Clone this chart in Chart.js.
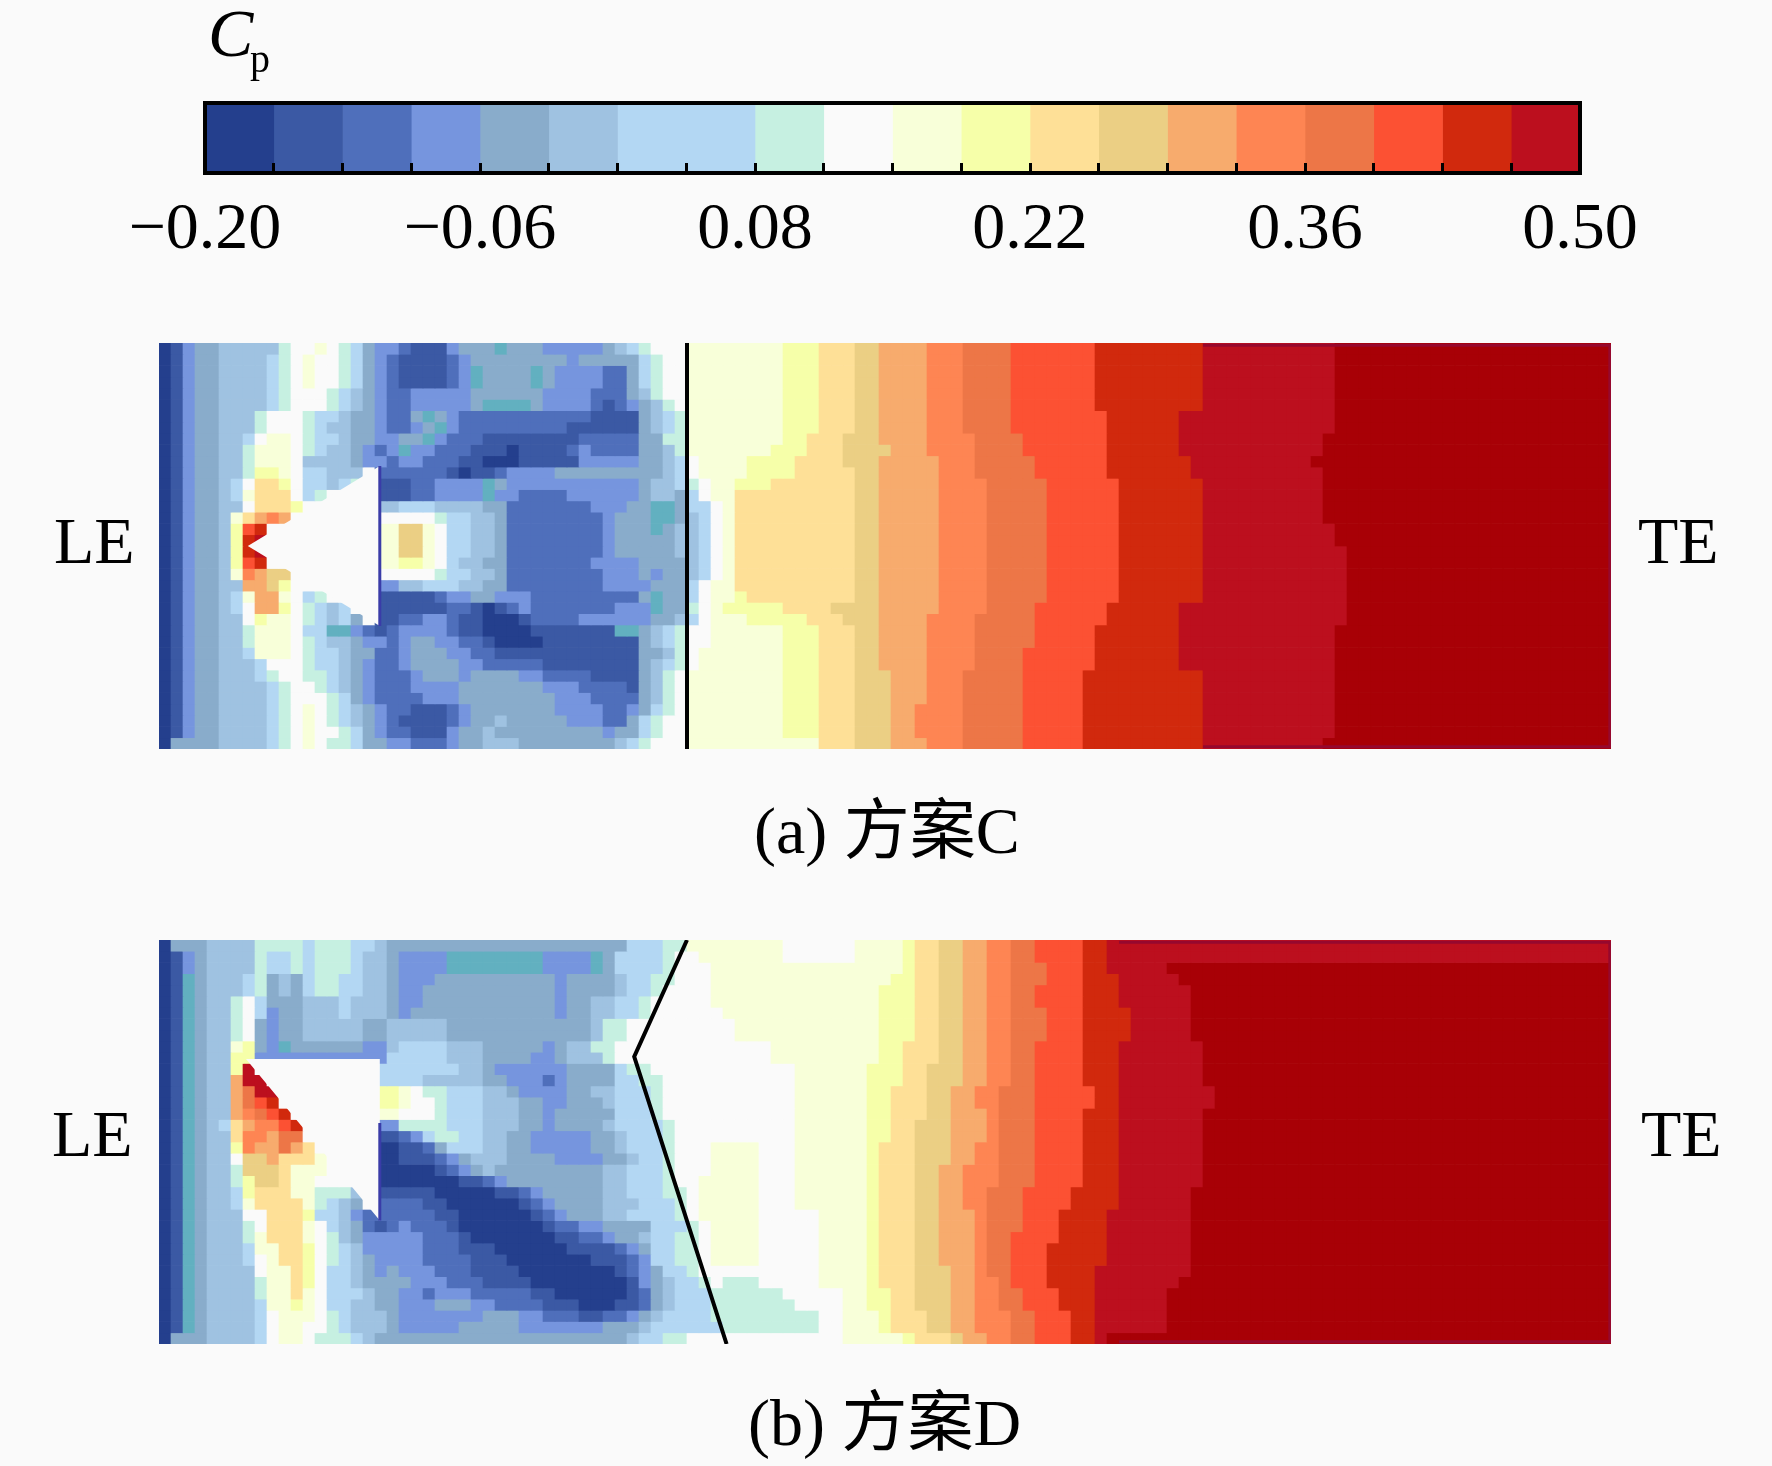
<!DOCTYPE html>
<html>
<head>
<meta charset="utf-8">
<script src="https://cdn.jsdelivr.net/npm/chart.js@4"></script>
<style>
  html, body { margin: 0; background: #fafafa; }
  #page { position: relative; width: 1772px; height: 1466px; overflow: hidden; }
  canvas { position: absolute; }
  .label { position: absolute; font: 66px/66px "Liberation Serif", "Noto Sans CJK SC", serif; color: #000; white-space: nowrap; }
</style>
</head>
<body>
<div id="page">
  <canvas id="barCanvas" style="left:0;top:90px" width="1772" height="180"></canvas>
  <canvas id="fieldA" style="left:159px;top:343px" width="1452" height="406"></canvas>
  <canvas id="fieldB" style="left:159px;top:940px" width="1452" height="404"></canvas>
  <div class="label" style="left:208px;top:0;font-style:italic;font-size:68px">C</div>
  <div class="label" style="left:250px;top:26px;font-size:40px">p</div>
  <div class="label" style="left:54px;top:508px">LE</div>
  <div class="label" style="left:1638px;top:508px">TE</div>
  <div class="label" style="left:754px;top:798px">(a) 方案C</div>
  <div class="label" style="left:52px;top:1101px">LE</div>
  <div class="label" style="left:1641px;top:1101px">TE</div>
  <div class="label" style="left:748px;top:1390px">(b) 方案D</div>
</div>
<script>
// Contour levels, one colour per band (k is the saturated field beyond the bar, t the teal patches)
const levelCodes = '0123456789abcdefghijkt';
const levelColors = ['#243f8d', '#3b59a4', '#4f6fbb', '#7695de', '#89accb', '#9fc2e1', '#b3d7f3', '#b3d7f3',
  '#c6f0e1', '#fafafa', '#f8ffd9', '#f6ffa9', '#fee097', '#ebcf84', '#f7ab6d', '#fe8553', '#ed7647', '#fc5133',
  '#d1290d', '#bc0f1e', '#a80006', '#62b0c0'];
const cpMin = -0.2, cpMax = 0.5, cpStep = 0.035;
const tickLabels = ['\u22120.20', '\u22120.06', '0.08', '0.22', '0.36', '0.50'];
const columnCount = 121, rowCount = 36, sweepColumn = 44;

// Panel (a): band code per cell, row by row, up to the line and a little past it
const leftA = [
  '0134455555 899a986433 21113444t4 4433333456 8999',
  '0134455556 89a9986432 1111234444 4444344444 6899',
  '0134455556 89a9986432 111123t444 4t43333224 6899',
  '0134455556 89a9986432 111123t444 4t43333224 6899',
  '0134455556 8999865432 2333334444 4433332224 5899',
  '0134455556 8999865432 2333334ttt t433332123 4589',
  '0134455589 9986654432 24t4322222 2222221111 4568',
  '0134455589 9986554432 234t322222 2222111111 4568',
  '013445569a a986654433 44t3222111 1111122222 4488',
  '01344558aa a986554323 t332221110 1111232222 4458',
  '01344558aa a955554332 3322211000 1111133333 4456 9',
  '01344558bb a966555922 2222101123 3334444444 4456 9',
  '01344569cc b966568911 1223333t43 3333333333 4556 89',
  '0134456acc c968999911 1223333t33 2222333333 4554 69',
  '01344559cc cb99999955 6665555442 2222223334 4tt4 669',
  '013445acef e999999999 9998665542 2222222344 4tt4 569',
  '013445bhi9 99999999aa dda9665542 2222222344 4t45 569',
  '013445bij9 99999999aa dda9665542 2222222344 4445 569',
  '013445bij9 99999999aa dda9665542 2222222344 4445 569',
  '013445bhi9 99999999aa bba9655442 2222223333 4444 569',
  '013445afed d999999999 9998665542 2222222333 4344 569',
  '0134455eed b999999933 5566655442 2222222333 3444 69',
  '0134456aee a968999911 1112334433 3222222222 4t44 69',
  '01344569ee b986569911 1111221012 3222222233 3t44 89',
  '01344559ba a986564911 2233211000 1222233333 3445 69',
  '01344558aa a966tt3212 3333211000 01111111tt 4568 99',
  '01344558aa a986554332 3443322100 0011111111 4568 99',
  '01344556aa a986654422 3444332211 1111111111 4458 9',
  '0134455569 9986654322 3444433222 2211111111 4568 9',
  '0134455568 9988654322 2344434444 3322221111 4589',
  '0134455556 8998654322 2333344444 4433322221 4589',
  '0134455556 8999864322 2233344444 4443332222 4589',
  '0134455556 89a9865432 2111234444 4443333223 4689',
  '0134455556 89a9865432 1111234454 4444333224 6899',
  '0134455556 89a9986432 2111344544 4444444344 6899',
  '0444455556 89a9886443 3222344555 4444444456 8999'
];
// Panel (a): column past the line where each band a..j ends, per row
const edgesA = [
  [8,11,14,16,20,23,27,34,43,54], [8,11,14,16,20,23,27,34,43,54], [8,11,14,16,20,23,27,34,43,54],
  [8,11,14,16,20,23,27,34,43,54], [8,11,14,16,20,23,27,34,43,54], [8,11,14,16,20,23,27,34,43,54],
  [8,11,14,16,20,23,27,35,41,54], [8,11,14,16,20,23,27,35,41,54], [8,10,13,16,20,24,28,35,41,53],
  [7,10,13,17,20,24,28,35,41,53], [5,9,13,16,21,24,29,35,42,52], [5,9,14,16,21,24,29,35,42,53],
  [4,7,14,16,21,25,30,36,43,53], [4,4,14,16,21,25,30,36,43,53], [4,4,14,16,21,25,30,36,43,53],
  [4,4,14,16,21,25,30,36,43,53], [4,4,14,16,21,25,30,36,43,54], [4,4,14,16,21,25,30,36,43,54],
  [4,4,14,16,21,25,30,36,43,55], [4,4,14,16,21,25,30,36,43,55], [4,4,14,16,21,25,30,36,43,55],
  [4,4,14,16,21,25,30,36,43,55], [4,5,14,16,21,25,30,36,43,55], [3,8,12,16,21,25,29,35,41,55],
  [5,10,13,16,20,24,29,35,41,55], [8,11,14,16,20,24,29,34,41,54], [8,11,14,16,20,24,29,34,41,54],
  [8,11,14,16,20,24,28,34,41,54], [8,11,14,16,20,24,28,34,41,54], [8,11,14,17,20,23,28,33,43,54],
  [8,11,14,17,20,23,28,33,43,54], [8,11,14,17,20,23,28,33,43,54], [8,11,14,17,19,23,28,33,43,54],
  [8,11,14,17,19,23,28,33,43,54], [8,11,14,17,19,23,28,33,43,54], [11,11,14,17,20,23,28,33,43,53]
];

// Panel (b)
const leftB = [
  '0444555588 8868886654 4444444444 4444444446 6688 aaaaaaaa999999',
  '0134555586 6868886554 3333tttttt tt3333t466 6689 9aaaaaaa999999',
  '0134555586 6868886554 3333tttttt tt3333t466 6689 99',
  '01t4555684 5468866554 3334444444 4443444456 6889 99',
  '01t4555684 5468866554 3344444444 4443444456 6899 99',
  '01t4558964 4455565554 3344444444 4443445566 8999 99',
  '01t4558963 4455565554 3444444444 4443445566 8999 999',
  '01t4558943 4455555445 5555444444 4444445889 9999 9999',
  '01t4558943 4455555445 5555444444 4444445889 9999 9999',
  '01t455ab43 t444444335 6666555444 4434558899 9999 9999999',
  '01t455bb33 3333333336 6666555444 4334555899 9999 9999999',
  '01t455bj99 9999999966 6666655433 3333444468 8999 999999999',
  '01t455ejj9 9999999966 6655555443 3323444466 8899 999999999',
  '01t455egjj 99999999bb a988666554 3333445566 6899 999999999',
  '01t455eghi 99999999bb a998666555 4433444566 6899 999999999',
  '01t455efgh i9999999aa 9998666555 4434444466 6899 999999999',
  '01t456ceff hi99999933 8888666555 4434444566 6689 999999999',
  '01t455cffe gg99999911 2368866554 4333334456 6689 999999999',
  '01t455bfee gec9999900 1124666554 4333334456 6689 99aaaa999',
  '01t4559dde ccca999900 1112345554 4443333445 6689 99aaaa999',
  '01t4558ddd caaa999900 0001234544 4444444556 6689 99aaaa999',
  '01t4558bdd caa9999900 0000011234 4444444556 6689 9aaaaa999',
  '01t4556bcc caa8885911 1110000011 2344444556 6688 9aaaaa999',
  '01t4556acc cca8654922 2211000000 1234444555 6668 9aaaaa999',
  '01t455599c ccb6653222 2221100000 0123444556 6668 9aaaaa99999',
  '01t455589c cca9654212 3222100000 0012233444 4666 89aaaa99999',
  '01t45558ac cca9854333 3322210000 0001122344 5668 89aaaa99999',
  '01t45556aa ccb9865333 3322211100 0000111123 4668 89aaaa99999',
  '01t455569a ccb9865433 3322221110 0000001112 3668 89aaaa99999',
  '01t455559a acb9665434 3332221111 0000000012 3466 89999999999',
  '01t455558a acb9665444 4333222111 1000000001 3456 68988899999',
  '01t455558a aca9666544 3323332222 2110000001 2456 6688888899999',
  '01t455556a aba9665544 3334443322 2211100011 2456 6688888889999',
  '01t4555569 aaa9865554 3333333444 3322211223 4566 6688888888899',
  '01t4555569 aa99865554 3333344444 3333333444 5666 6668888888899',
  '0444555569 aa98886544 4444444444 4444444445 6688 9999999999999'
];
const edgesB = [
  [18,19,21,23,25,27,29,33,35,77], [18,19,21,23,25,27,29,33,35,77], [18,19,21,23,25,27,30,33,35,40],
  [17,19,21,23,25,27,30,33,36,41], [16,19,21,23,25,27,29,33,36,42], [16,19,21,23,25,27,29,33,36,42],
  [16,19,21,23,25,27,30,33,37,42], [16,19,21,23,25,27,30,33,37,42], [16,19,21,23,25,27,30,33,37,42],
  [16,18,21,23,25,27,29,33,36,43], [16,18,21,23,25,27,29,33,36,43], [15,18,20,23,25,27,29,33,36,43],
  [15,18,20,23,25,27,29,33,36,43], [15,17,20,22,24,26,29,34,36,44], [15,17,20,22,24,26,29,34,36,44],
  [15,17,20,22,25,26,29,33,36,43], [15,17,19,22,25,26,29,33,36,43], [15,17,19,22,25,26,29,33,36,43],
  [15,16,19,22,24,26,29,33,36,43], [15,16,19,22,24,26,29,33,36,43], [15,16,19,21,23,26,29,33,36,43],
  [15,16,19,21,23,26,29,33,36,43], [15,16,19,21,23,25,28,32,36,42], [15,16,19,21,23,25,28,32,36,42],
  [15,16,19,21,24,25,28,31,35,42], [15,16,19,21,24,25,28,31,35,42], [15,16,19,21,24,25,27,31,35,42],
  [15,16,19,21,24,25,27,30,35,42], [15,16,19,21,24,25,27,30,35,42], [15,16,19,22,24,25,27,30,34,42],
  [15,16,19,22,24,26,27,30,34,41], [15,17,19,22,24,26,28,31,34,40], [15,17,19,22,24,26,28,31,34,40],
  [16,17,20,22,24,27,29,32,34,40], [16,17,20,22,24,27,29,32,34,40], [18,19,22,23,25,27,29,32,34,35]
];

// Wing outline, swept line and dark rim of the field, in column / row units
const wingAX = [7.4, 18.4, 18.4], wingAY = [18, 10.9, 25.1];
const wingBX = [7.25, 18.4, 18.4], wingBY = [10.6, 10.6, 25];
const rearAX = [18.4, 18.4], rearAY = [10.9, 25.1];
const rearBX = [18.4, 18.4], rearBY = [16.3, 25];
const lineAX = [44, 44], lineAY = [0, 36];
const lineBX = [44, 39.6, 47.3], lineBY = [0, 10.4, 36];
const rimAX = [87, 120.9, 120.9, 87], rimBX = [80, 120.9, 120.9, 80];
const rimY = [0.2, 0.2, 35.8, 35.8];

function rowColors(left, edges) {
  const codes = left.replace(/ /g, '').split('');
  edges.forEach((edge, i) => {
    while (codes.length < sweepColumn + edge) codes.push(levelCodes[10 + i]);
  });
  while (codes.length < columnCount) codes.push('k');
  return codes.slice(0, columnCount).map(c => levelColors[levelCodes.indexOf(c)]);
}

function overlay(xs, ys, opts) {
  return Object.assign({
    type: 'line', yAxisID: 'ly', pointRadius: 0, tension: 0,
    data: xs.map((x, i) => ({ x: x, y: ys[i] }))
  }, opts);
}

function drawField(id, left, edges, wingX, wingY, rearX, rearY, lineX, lineY, rimX) {
  const rows = left.map((row, r) => ({
    order: 1, borderWidth: 0, barPercentage: 1, categoryPercentage: 1,
    data: Array.from({ length: columnCount }, (_, c) => ({ x: c + 0.5, y: 1 })),
    backgroundColor: rowColors(row, edges[r])
  }));
  new Chart(document.getElementById(id), {
    type: 'bar',
    data: {
      datasets: rows.concat([
        overlay(rimX, rimY, { borderColor: '#96082e', borderWidth: 3, order: 0 }),
        overlay(wingX, wingY, { fill: 'shape', backgroundColor: '#fafafa', borderWidth: 0, order: -1 }),
        overlay(rearX, rearY, { borderColor: '#3a3ca8', borderWidth: 3, order: -2 }),
        overlay(lineX, lineY, { borderColor: '#000', borderWidth: 4, order: -3, borderJoinStyle: 'miter' })
      ])
    },
    options: {
      responsive: false, animation: false, devicePixelRatio: 1,
      layout: { padding: 0 },
      plugins: { legend: { display: false }, tooltip: { enabled: false } },
      scales: {
        x: { type: 'linear', display: false, stacked: true, offset: false, min: 0, max: columnCount, ticks: { stepSize: 1 } },
        y: { display: false, stacked: true, reverse: true, min: 0, max: rowCount },
        ly: { type: 'linear', display: false, reverse: true, min: 0, max: rowCount }
      }
    }
  });
}

// Colour bar: one floating bar per band on a real Cp axis
const barFrame = {
  id: 'barFrame',
  afterDraw(chart) {
    const a = chart.chartArea, ctx = chart.ctx;
    ctx.save();
    ctx.strokeStyle = '#000';
    ctx.lineWidth = 4;
    ctx.strokeRect(a.left, a.top, a.width, a.height);
    ctx.restore();
  }
};

new Chart(document.getElementById('barCanvas'), {
  type: 'bar',
  data: {
    labels: ['Cp'],
    datasets: levelColors.slice(0, 20).map((color, i) => ({
      data: [[cpMin + i * cpStep, cpMin + (i + 1) * cpStep]],
      backgroundColor: color, borderWidth: 0, barPercentage: 1, categoryPercentage: 1, grouped: false
    }))
  },
  options: {
    indexAxis: 'y', responsive: false, animation: false, devicePixelRatio: 1,
    layout: { padding: { left: 205, right: 192, top: 13, bottom: 0 } },
    plugins: { legend: { display: false }, tooltip: { enabled: false } },
    scales: {
      y: { display: false },
      x: {
        type: 'linear', min: cpMin, max: cpMax,
        afterFit(scale) { scale.height = 97; },
        border: { display: false },
        grid: { drawOnChartArea: false, color: '#000', tickLength: -10, tickWidth: 3, z: 1 },
        ticks: {
          stepSize: cpStep, autoSkip: false, maxRotation: 0, padding: 28, color: '#000',
          font: { family: '"Liberation Serif"', size: 66 },
          callback: (value, index) => (index % 4 === 0 ? tickLabels[index / 4] : '')
        }
      }
    }
  },
  plugins: [barFrame]
});

drawField('fieldA', leftA, edgesA, wingAX, wingAY, rearAX, rearAY, lineAX, lineAY, rimAX);
drawField('fieldB', leftB, edgesB, wingBX, wingBY, rearBX, rearBY, lineBX, lineBY, rimBX);
</script>
</body>
</html>
